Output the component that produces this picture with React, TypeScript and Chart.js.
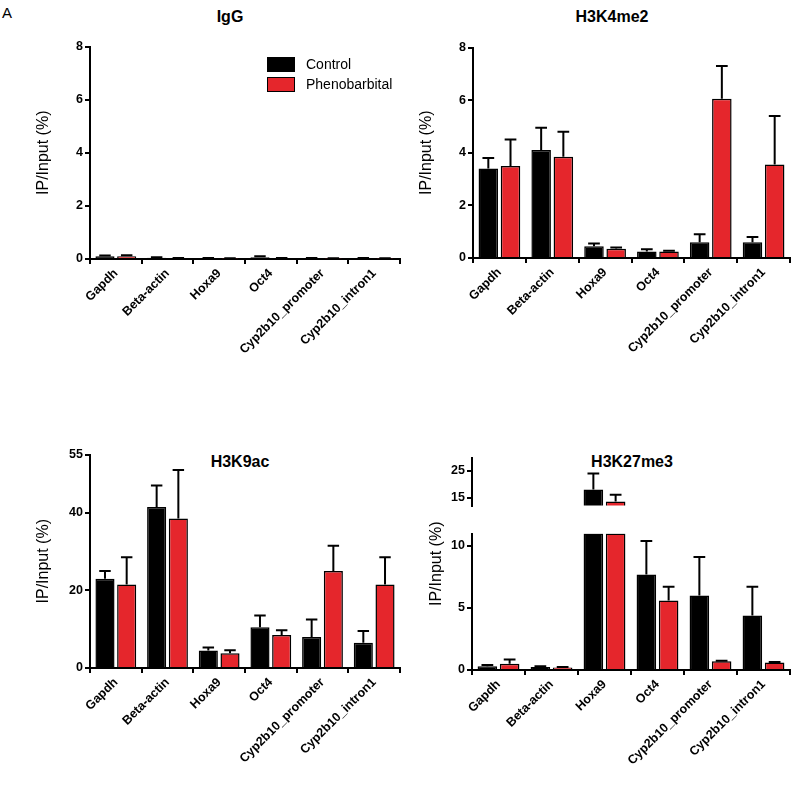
import React, { useEffect, useRef } from "react";
import { Chart, registerables } from "chart.js";
Chart.register(...registerables);

const categories = ["Gapdh", "Beta-actin", "Hoxa9", "Oct4", "Cyp2b10_promoter", "Cyp2b10_intron1"];
const seriesNames = ["Control", "Phenobarbital"];

const iggControl = [0.1, 0.05, 0.03, 0.07, 0.03, 0.03];
const iggControlErr = [0.03, 0.02, 0.01, 0.03, 0.01, 0.01];
const iggPheno = [0.1, 0.03, 0.02, 0.03, 0.02, 0.02];
const iggPhenoErr = [0.04, 0.01, 0.01, 0.01, 0.01, 0.01];

const k4Control = [3.4, 4.1, 0.45, 0.25, 0.6, 0.6];
const k4ControlErr = [0.4, 0.85, 0.1, 0.08, 0.3, 0.2];
const k4Pheno = [3.5, 3.85, 0.35, 0.25, 6.05, 3.55];
const k4PhenoErr = [1.0, 0.95, 0.05, 0.03, 1.25, 1.85];

const k9Control = [23, 41.5, 4.5, 10.5, 8, 6.5];
const k9ControlErr = [2, 5.5, 0.8, 3, 4.5, 3];
const k9Pheno = [21.5, 38.5, 3.8, 8.5, 25, 21.5];
const k9PhenoErr = [7, 12.5, 0.8, 1.2, 6.5, 7];

const k27Control = [0.3, 0.25, 18, 7.7, 6, 4.4];
const k27ControlErr = [0.1, 0.05, 6, 2.7, 3.1, 2.3];
const k27Pheno = [0.5, 0.2, 13.5, 5.6, 0.7, 0.6];
const k27PhenoErr = [0.35, 0.05, 2.5, 1.1, 0.05, 0.05];

const igTicks = [0, 2, 4, 6, 8];
const k4Ticks = [0, 2, 4, 6, 8];
const k9Ticks = [0, 20, 40, 55];
const k27LowTicks = [0, 5, 10];
const k27HighTicks = [15, 20, 25, 30];
const BREAK_LOW = 11;
const BREAK_HIGH = 12;

const RED = "#e5262c";
const FONT = "'Liberation Sans', Arial, sans-serif";

const errorBars = {
  id: "errorBars",
  afterDatasetsDraw(chart: any) {
    const ctx = chart.ctx;
    const ys = chart.scales.y;
    ctx.save();
    ctx.strokeStyle = "#000";
    ctx.lineWidth = 2;
    chart.data.datasets.forEach((ds: any, i: number) => {
      const meta = chart.getDatasetMeta(i);
      meta.data.forEach((bar: any, j: number) => {
        const v = ds.data[j];
        if (v == null || ds.errs == null) return;
        const raw = ds.raw[j];
        if (raw > ys.max) return;
        const top = ys.getPixelForValue(raw + ds.errs[j]);
        const base = ys.getPixelForValue(raw);
        const w = bar.width * 0.3;
        ctx.beginPath();
        ctx.moveTo(bar.x, base);
        ctx.lineTo(bar.x, top);
        ctx.moveTo(bar.x - w, top);
        ctx.lineTo(bar.x + w, top);
        ctx.stroke();
      });
    });
    ctx.restore();
  },
};

type PanelProps = {
  left: number; top: number; plotW: number; plotH: number;
  min: number; max: number; ticks: number[];
  c: number[]; ce: number[]; p: number[]; pe: number[];
  showX: boolean; showYTitle: boolean; mode?: "low" | "high";
};

function Panel(props: PanelProps) {
  const ref = useRef<HTMLCanvasElement>(null);
  const YW = 60, PT = 8, XH = props.showX ? 110 : 0, PR = 6;
  useEffect(() => {
    const { min, max, ticks, mode } = props;
    const mk = (vals: number[]) =>
      vals.map((v) => {
        if (mode === "low") return Math.min(v, BREAK_LOW);
        if (mode === "high") return v > BREAK_HIGH ? v : null;
        return v;
      });
    const chart = new Chart(ref.current!, {
      type: "bar",
      data: {
        labels: categories,
        datasets: [
          { label: seriesNames[0], data: mk(props.c) as any, raw: props.c, errs: props.ce, backgroundColor: "#000", borderColor: "#000", borderWidth: 1.5 } as any,
          { label: seriesNames[1], data: mk(props.p) as any, raw: props.p, errs: props.pe, backgroundColor: RED, borderColor: "#000", borderWidth: 1.5 } as any,
        ],
      },
      options: {
        animation: false,
        responsive: false,
        maintainAspectRatio: false,
        layout: { padding: { top: PT, right: PR, left: 0, bottom: 0 } },
        plugins: { legend: { display: false }, tooltip: { enabled: false } },
        datasets: { bar: { categoryPercentage: 0.84, barPercentage: 0.88 } },
        scales: {
          x: {
            display: props.showX,
            grid: { display: true, drawOnChartArea: false, drawTicks: true, tickLength: 5, color: "#000", lineWidth: 2 },
            border: { display: true, color: "#000", width: 2 },
            ticks: { maxRotation: 45, minRotation: 45, color: "#000", font: { family: FONT, size: 12.5, weight: "bold" }, padding: 2 },
            afterFit: (s: any) => { s.height = XH; },
          },
          y: {
            min, max,
            afterBuildTicks: (s: any) => { s.ticks = ticks.map((v) => ({ value: v })); },
            grid: { display: true, drawOnChartArea: false, drawTicks: true, tickLength: 5, color: "#000", lineWidth: 2 },
            border: { display: true, color: "#000", width: 2 },
            ticks: { color: "#000", font: { family: FONT, size: 12.5, weight: "bold" }, padding: 2 },
            title: { display: props.showYTitle, text: "IP/Input (%)", color: "#000", font: { family: FONT, size: 16 }, padding: 4 },
            afterFit: (s: any) => { s.width = YW; },
          },
        },
      },
      plugins: [errorBars],
    });
    return () => chart.destroy();
  }, []);
  const w = YW + props.plotW + PR;
  const h = PT + props.plotH + XH;
  return (
    <canvas ref={ref} width={w} height={h}
      style={{ position: "absolute", left: props.left - YW, top: props.top - PT, width: w, height: h }} />
  );
}

const titleStyle = (x: number, y: number): React.CSSProperties => ({
  position: "absolute", left: x - 80, top: y - 10, width: 160, textAlign: "center",
  fontFamily: FONT, fontWeight: "bold", fontSize: 16, color: "#000",
});

export default function App() {
  return (
    <div style={{ position: "absolute", left: 0, top: 0, width: 800, height: 800, background: "#fff" }}>
      <div style={{ position: "absolute", left: 2, top: 4, fontFamily: FONT, fontSize: 15 }}>A</div>
      <div style={titleStyle(230, 18)}>IgG</div>
      <div style={titleStyle(612, 18)}>H3K4me2</div>
      <div style={titleStyle(240, 463)}>H3K9ac</div>
      <div style={titleStyle(632, 463)}>H3K27me3</div>

      <Panel left={90} top={45} plotW={310} plotH={214} min={0} max={8} ticks={igTicks}
        c={iggControl} ce={iggControlErr} p={iggPheno} pe={iggPhenoErr} showX showYTitle />
      <Panel left={473} top={46} plotW={317} plotH={212} min={0} max={8} ticks={k4Ticks}
        c={k4Control} ce={k4ControlErr} p={k4Pheno} pe={k4PhenoErr} showX showYTitle />
      <Panel left={90} top={453} plotW={310} plotH={215} min={0} max={55} ticks={k9Ticks}
        c={k9Control} ce={k9ControlErr} p={k9Pheno} pe={k9PhenoErr} showX showYTitle />
      <Panel left={472} top={456} plotW={318} plotH={59} min={BREAK_HIGH} max={30} ticks={k27HighTicks}
        c={k27Control} ce={k27ControlErr} p={k27Pheno} pe={k27PhenoErr} showX={false} showYTitle={false} mode="high" />
      <Panel left={472} top={532} plotW={318} plotH={138} min={0} max={BREAK_LOW} ticks={k27LowTicks}
        c={k27Control} ce={k27ControlErr} p={k27Pheno} pe={k27PhenoErr} showX showYTitle={false} mode="low" />
      <div style={{ position: "absolute", top: 606, left: 427, fontFamily: FONT, fontSize: 16, transform: "rotate(-90deg)", transformOrigin: "0 0", whiteSpace: "nowrap" }}>IP/Input (%)</div>

      <div style={{ position: "absolute", left: 267, top: 54, fontFamily: FONT, fontSize: 14, color: "#000" }}>
        <div style={{ display: "flex", alignItems: "center", height: 20 }}>
          <span style={{ width: 26, height: 13, background: "#000", border: "1.5px solid #000", marginRight: 11 }} />Control
        </div>
        <div style={{ display: "flex", alignItems: "center", height: 20 }}>
          <span style={{ width: 26, height: 13, background: RED, border: "1.5px solid #000", marginRight: 11 }} />Phenobarbital
        </div>
      </div>
    </div>
  );
}
